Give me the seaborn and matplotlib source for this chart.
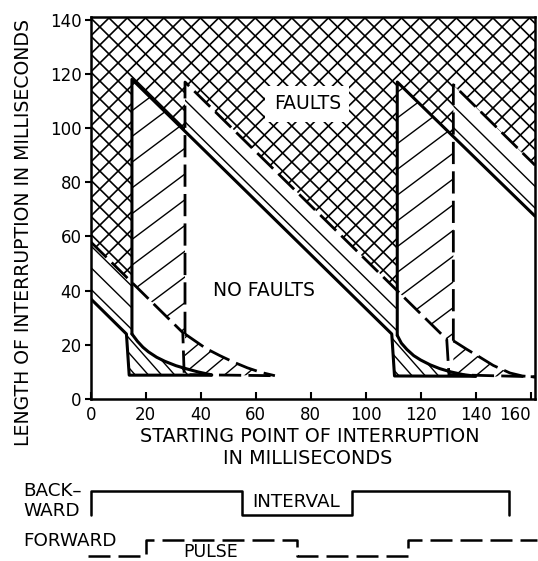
import numpy as np
import matplotlib
matplotlib.use("Agg")
import matplotlib.pyplot as plt
from matplotlib.patches import Polygon
import seaborn as sns

# ---------------- data (milliseconds) ----------------
# backward-pulse fault boundary (solid)
bwd_tail_x = [0, 13, 14, 44]
bwd_tail_y = [37, 24, 8.8, 8.8]
bwd1_x = [15, 15, 109.5, 110.5, 140]
bwd1_y = [24, 118, 24, 8.5, 8.4]
bwd2_x = [111.5, 111.5, 161.6]
bwd2_y = [23.5, 117, 67.5]
bwd_curve1_x = [15, 17, 19, 21, 24, 27, 31, 35, 39, 44]
bwd_curve1_y = [24, 21.3, 19.1, 17.4, 15.4, 13.9, 12.3, 11.1, 10.0, 8.9]
bwd_curve2_x = [111.5, 113, 115, 117.5, 120, 123.5, 127, 131, 135.5, 140]
bwd_curve2_y = [23.5, 20.6, 18.3, 16.0, 14.4, 12.6, 11.2, 10.0, 9.0, 8.4]

# forward-pulse fault boundary (dashed)
fwd_tail_x = [0, 33.5, 34, 67]
fwd_tail_y = [58, 24.5, 9, 8.6]
fwd1_x = [34.3, 34.3, 129.5, 130.3, 161.6]
fwd1_y = [24, 117, 22, 9, 8.2]
fwd2_x = [131.9, 131.9, 161.6]
fwd2_y = [21.5, 116, 86.3]
fwd_curve1_x = [34.3, 38, 42, 47, 52, 57, 62, 67]
fwd_curve1_y = [24, 21.4, 18.6, 16, 13.6, 11.5, 9.8, 8.6]
fwd_curve2_x = [131.9, 136.7, 141.6, 146.4, 152.5, 157, 161.6]
fwd_curve2_y = [21.5, 18.4, 15.4, 12.4, 9.6, 8.5, 8.1]

# pulse timing: switching instants (ms) and on/off states
bwd_t = [0, 0, 55, 55, 95, 95, 152, 152]
bwd_s = [0, 1, 1, 0, 0, 1, 1, 0]
fwd_t = [-1, 20, 20, 75, 75, 115.5, 115.5, 162.3]
fwd_s = [0, 0, 1, 1, 0, 0, 1, 1]

x_ticks = [0, 20, 40, 60, 80, 100, 120, 140, 160]
y_ticks = [0, 20, 40, 60, 80, 100, 120, 140]
X_MAX, Y_MAX = 161.6, 141

# ---------------- figure ----------------
W, H, DPI = 538, 561, 100
sns.set_theme(style="white")
plt.rcParams["font.family"] = ["DejaVu Sans"]
plt.rcParams["text.color"] = "black"

fig = plt.figure(figsize=(W / DPI, H / DPI), dpi=DPI)
fig.patch.set_facecolor("white")
ax = fig.add_axes([90.7 / W, 1 - 399 / H, (535 - 90.7) / W, (399 - 17) / H])
ax.set_facecolor("white")

SOLID = dict(color="black", linewidth=2.2, zorder=3)
DASHED = dict(color="black", linewidth=2.0, linestyle=(0, (8, 2.6)), zorder=3)


def draw(x, y, style, axis=ax, **kw):
    sns.lineplot(x=x, y=y, sort=False, estimator=None, ax=axis, **style, **kw)


def at(seg, x):
    return float(np.interp(x, seg[0], seg[1]))


def hatch(verts, slope, step, phase=0.0, lw=1.0):
    """Fill a polygon with parallel lines y = slope*x + c."""
    patch = Polygon(verts, closed=True, facecolor="none", edgecolor="none")
    ax.add_patch(patch)
    v = np.asarray(verts, dtype=float)
    c = v[:, 1] - slope * v[:, 0]
    k0 = np.floor((c.min() - phase) / step)
    k1 = np.ceil((c.max() - phase) / step)
    xs = np.array([v[:, 0].min() - 1, v[:, 0].max() + 1])
    for k in np.arange(k0, k1 + 1):
        cc = phase + k * step
        (ln,) = ax.plot(xs, slope * xs + cc, color="black", lw=lw,
                        solid_capstyle="butt", zorder=2)
        ln.set_clip_path(patch)


# straight stretches that bound the shaded areas
b0 = (bwd_tail_x[:2], bwd_tail_y[:2])
b1 = (bwd1_x[1:3], bwd1_y[1:3])
b2 = (bwd2_x[1:], bwd2_y[1:])
f0 = (fwd_tail_x[:2], fwd_tail_y[:2])
f1 = (fwd1_x[1:3], fwd1_y[1:3])
f2 = (fwd2_x[1:], fwd2_y[1:])
xb1, xb2 = bwd1_x[0], bwd2_x[0]
xf1, xf2 = fwd1_x[0], fwd2_x[0]

# fault area (cross-hatched)
cross = [(0, Y_MAX), (0, at(f0, 0)), (xb1, at(f0, xb1)), (xb1, at(b1, xb1)),
         (xf1, at(b1, xf1)), (xf1, at(f1, xf1)), (xb2, at(f1, xb2)),
         (xb2, at(b2, xb2)), (xf2, at(b2, xf2)), (xf2, at(f2, xf2)),
         (X_MAX, at(f2, X_MAX)), (X_MAX, Y_MAX)]
hatch(cross, 1.0, 6.65, phase=1.0, lw=1.2)
hatch(cross, -1.0, 6.65, phase=1.0, lw=1.2)

# forward-only areas ("/")
up1 = [(xb1, at(f0, xb1)), (xb1, at(b1, xb1)), (xf1, at(b1, xf1)),
       (xf1, fwd1_y[0]), (f0[0][1], f0[1][1])]
up2 = [(xb2, at(f1, xb2)), (xb2, at(b2, xb2)), (xf2, at(b2, xf2)),
       (xf2, fwd2_y[0]), (f1[0][1], f1[1][1])]
hatch(up1, 0.76, 9.5, lw=1.0)
hatch(up2, 0.76, 9.5, lw=1.0)


def under_dashed(fx, fy, bx, by):
    upper = list(zip(fx, fy))
    lower = [(fx[0], float(np.interp(fx[0], bx, by)))]
    lower += [(x, y) for x, y in zip(bx, by) if x > fx[0]]
    return upper + lower[::-1]


hatch(under_dashed(fwd_curve1_x, fwd_curve1_y, bwd_curve1_x, bwd_curve1_y), 0.85, 6.5, lw=1.0)
hatch(under_dashed(fwd_curve2_x, fwd_curve2_y, bwd_curve2_x, bwd_curve2_y), 0.85, 6.5, lw=1.0)

# backward-only areas ("\")
band0 = [(0, at(f0, 0)), (xb1, at(f0, xb1)), (xb1, bwd_tail_y[1]),
         (bwd_tail_x[1], bwd_tail_y[1]), (0, at(b0, 0))]
band1 = [(xf1, at(f1, xf1)), (xb2, at(f1, xb2)), (xb2, bwd2_y[0]),
         (bwd1_x[2], bwd1_y[2]), (xf1, at(b1, xf1))]
band2 = [(xf2, at(f2, xf2)), (X_MAX, at(f2, X_MAX)), (X_MAX, at(b2, X_MAX)),
         (xf2, at(b2, xf2))]
hatch(band0, -1.0, 8.0, phase=b0[1][0] + b0[0][0] + 3.6, lw=1.0)
hatch(band1, -1.0, 8.0, phase=b1[1][0] + b1[0][0] + 3.6, lw=1.0)
hatch(band2, -1.0, 8.0, phase=b2[1][0] + b2[0][0] + 3.6, lw=1.0)

under1 = ([(bwd_tail_x[1], bwd_tail_y[1])] + list(zip(bwd_curve1_x, bwd_curve1_y))
          + [(bwd_tail_x[2], bwd_tail_y[2])])
under2 = ([(bwd1_x[2], bwd1_y[2])] + list(zip(bwd_curve2_x, bwd_curve2_y))
          + [(bwd1_x[3], bwd1_y[3])])
hatch(under1, -1.15, 5.5, lw=1.0)
hatch(under2, -1.15, 5.5, lw=1.0)

# boundary lines
for xs, ys in [(bwd_tail_x, bwd_tail_y), (bwd1_x, bwd1_y), (bwd2_x, bwd2_y),
               (bwd_curve1_x, bwd_curve1_y), (bwd_curve2_x, bwd_curve2_y)]:
    draw(xs, ys, SOLID)
for xs, ys in [(fwd_tail_x, fwd_tail_y), (fwd1_x, fwd1_y), (fwd2_x, fwd2_y),
               (fwd_curve1_x, fwd_curve1_y), (fwd_curve2_x, fwd_curve2_y)]:
    draw(xs, ys, DASHED)

ax.text(78.8, 108.9, "FAULTS", ha="center", va="center", fontsize=13.5, zorder=5,
        bbox=dict(boxstyle="square,pad=0.45", fc="white", ec="none"))
ax.text(63.0, 39.9, "NO FAULTS", ha="center", va="center", fontsize=13.5, zorder=5)

ax.set_xlim(0, X_MAX)
ax.set_ylim(0, Y_MAX)
ax.set_xticks(x_ticks)
ax.set_xticklabels([str(t) for t in x_ticks])
ax.set_yticks(y_ticks)
ax.set_yticklabels([str(t) for t in y_ticks])
ax.tick_params(axis="x", direction="in", length=5, width=1.5, pad=5, labelsize=12,
               bottom=True, top=False, color="black", labelcolor="black")
ax.tick_params(axis="y", direction="out", length=4.5, width=1.5, pad=2, labelsize=12,
               left=True, right=False, color="black", labelcolor="black")
ax.get_xticklabels()[-1].set_horizontalalignment("right")
ax.set_xlabel("")
ax.set_ylabel("")
for sp in ax.spines.values():
    sp.set_visible(True)
    sp.set_color("black")
    sp.set_linewidth(1.8)
    sp.set_zorder(6)


def fpos(px, py):
    return px / W, 1 - py / H


fig.text(*fpos(310, 437), "STARTING POINT OF INTERRUPTION", ha="center", va="center",
         fontsize=13.8)
fig.text(*fpos(308, 459), "IN MILLISECONDS", ha="center", va="center", fontsize=13.8)
fig.text(*fpos(24, 232), "LENGTH OF INTERRUPTION IN MILLISECONDS", ha="center",
         va="center", rotation=90, fontsize=13.6)

# ---------------- pulse timing strip ----------------
ax2 = fig.add_axes([90.7 / W, 0, (535 - 90.7) / W, 91 / H])
ax2.set_xlim(0, X_MAX)
ax2.set_ylim(561, 470)
ax2.axis("off")

BWD_LOW, BWD_STEP = 515, 24
FWD_LOW, FWD_STEP = 556, 16.5
draw(bwd_t, BWD_LOW - BWD_STEP * np.array(bwd_s),
     dict(color="black", linewidth=1.8), axis=ax2, clip_on=False)
draw(fwd_t, FWD_LOW - FWD_STEP * np.array(fwd_s),
     dict(color="black", linewidth=1.8, linestyle=(0, (8.8, 3.2))), axis=ax2, clip_on=False)

lab = dict(fontsize=13.2, va="center", clip_on=False)
ax2.text(-24.6, 491, "BACK\u2013", ha="left", **lab)
ax2.text(-24.6, 510.5, "WARD", ha="left", **lab)
ax2.text(-24.6, 540.5, "FORWARD", ha="left", **lab)
ax2.text(74.7, 502, "INTERVAL", ha="center", **lab)
ax2.text(43.5, 557, "PULSE", ha="center", fontsize=12.5, va="baseline", clip_on=False)

fig.savefig("out.png", dpi=DPI, facecolor="white")
